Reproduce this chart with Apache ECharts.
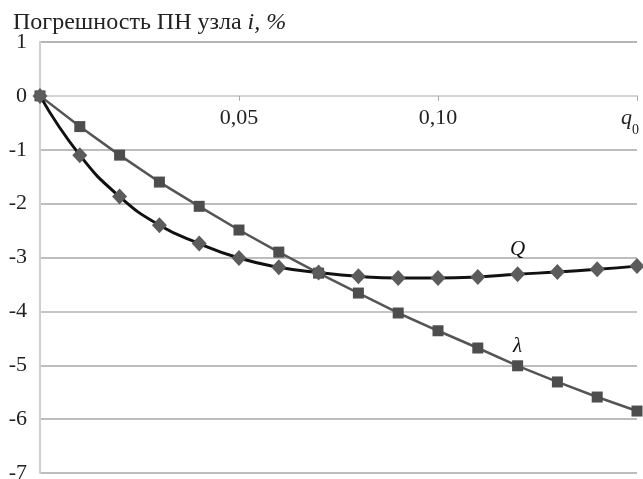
<!DOCTYPE html>
<html>
<head>
<meta charset="utf-8">
<script src="https://cdn.jsdelivr.net/npm/echarts@6/dist/echarts.min.js"></script>
<style>
html,body{margin:0;padding:0;background:#fff;}
#main{width:643px;height:479px;}
</style>
</head>
<body>
<div id="main"></div>
<script>
var myChart = echarts.init(document.getElementById('main'));

// q values (x axis), step 0.01
var qValues = [0, 0.01, 0.02, 0.03, 0.04, 0.05, 0.06, 0.07, 0.08, 0.09, 0.10, 0.11, 0.12, 0.13, 0.14, 0.15];
// error for lambda (squares)
var lambdaValues = [0, -0.57, -1.10, -1.60, -2.05, -2.49, -2.90, -3.29, -3.66, -4.03, -4.36, -4.68, -5.01, -5.31, -5.59, -5.85];
// error for Q (diamonds)
var qErrValues = [0, -1.10, -1.87, -2.40, -2.74, -3.01, -3.18, -3.28, -3.35, -3.38, -3.38, -3.36, -3.31, -3.27, -3.22, -3.16];
var xTickLabels = {'0.05': '0,05', '0.1': '0,10', '0.15': '{it|q}{sub|0}'};
var labelIndex = 12;

var serif = '"Liberation Serif", "DejaVu Serif", serif';

function makeData(vals, name, offset) {
    return vals.map(function (v, i) {
        var item = {value: [qValues[i], v]};
        if (i === labelIndex) {
            item.label = {
                show: true, position: 'top', distance: offset,
                formatter: name, fontFamily: serif, fontStyle: 'italic',
                fontSize: 21, color: '#111'
            };
        }
        return item;
    });
}

var option = {
    animation: false,
    backgroundColor: '#fff',
    title: {
        left: 8, top: 6,
        text: '{n|Погрешность ПН узла }{i|i, %}',
        textStyle: {
            fontFamily: serif, fontSize: 24, fontWeight: 'normal', color: '#222',
            rich: {
                n: {fontFamily: serif, fontSize: 24, color: '#222'},
                i: {fontFamily: serif, fontSize: 24, fontStyle: 'italic', color: '#222'}
            }
        }
    },
    grid: {left: 40, right: 6, top: 42, bottom: 6, containLabel: false, outerBoundsMode: 'none'},
    xAxis: {
        type: 'value', min: 0, max: 0.15, interval: 0.05,
        position: 'top', offset: 0,
        axisLine: {onZero: false, lineStyle: {color: '#d4d4d4', width: 2}},
        axisTick: {show: true, inside: true, length: 5, lineStyle: {color: '#aaa'}},
        splitLine: {show: false},
        axisLabel: {
            inside: true, margin: 11,
            fontFamily: serif, fontSize: 22, color: '#222',
            formatter: function (v) {
                var k = String(Math.round(v * 100) / 100);
                return xTickLabels[k] || '';
            },
            rich: {
                it: {fontFamily: serif, fontSize: 22, fontStyle: 'italic', color: '#222', padding: [0, 0, 8, 0]},
                sub: {fontFamily: serif, fontSize: 14, color: '#222', verticalAlign: 'bottom', padding: [0, 14, 0, 0]}
            }
        }
    },
    yAxis: {
        type: 'value', min: -7, max: 1, interval: 1,
        axisLine: {show: true, onZero: false, lineStyle: {color: '#cfcfcf', width: 2}},
        axisTick: {show: false},
        splitLine: {lineStyle: {color: ['#bdbdbd', '#bdbdbd', '#bdbdbd', '#c4c4c4', '#bdbdbd', '#bdbdbd', '#bdbdbd', '#dadada', '#b5b5b5'], width: 2}},
        axisLabel: {margin: 13, fontFamily: serif, fontSize: 22, color: '#222'}
    },
    series: [
        {
            name: 'λ', type: 'line',
            data: makeData(lambdaValues, 'λ', 3),
            symbol: 'rect', symbolSize: 11,
            itemStyle: {color: '#4d4d4d'},
            lineStyle: {color: '#555', width: 2.5},
            z: 2
        },
        {
            name: 'Q', type: 'line', smooth: true,
            data: makeData(qErrValues, 'Q', 6),
            symbol: 'diamond', symbolSize: [15, 16],
            itemStyle: {color: '#5c5c5c'},
            lineStyle: {color: '#111', width: 3},
            z: 3
        }
    ]
};

myChart.setOption(option);

// move the q axis down onto the zero line of the error axis
var zeroY = myChart.convertToPixel({yAxisIndex: 0}, 0);
var topY = myChart.convertToPixel({yAxisIndex: 0}, 1);
myChart.setOption({xAxis: {offset: -(zeroY - topY)}});
</script>
</body>
</html>
